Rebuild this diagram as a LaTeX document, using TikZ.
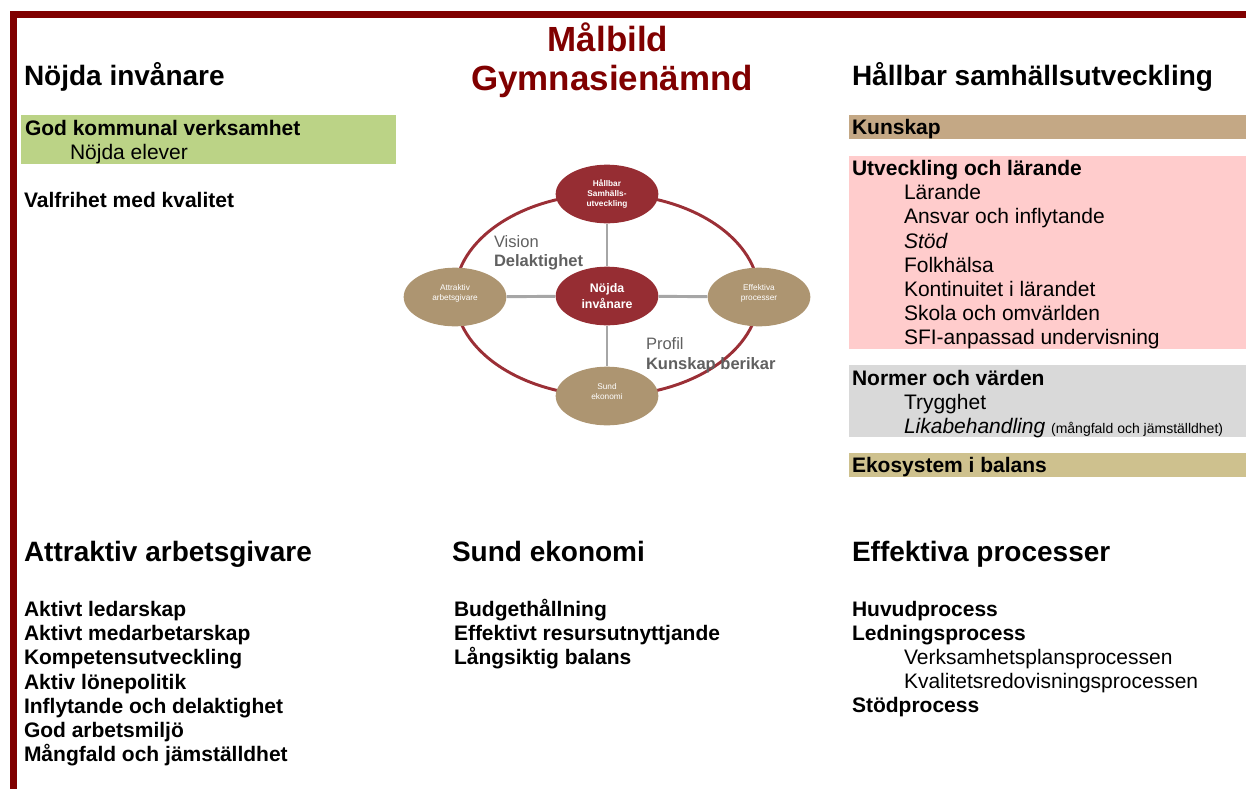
\documentclass[tikz,border=0pt]{standalone}
\usepackage{fontspec}
\setmainfont{Liberation Sans}
\usetikzlibrary{shapes.geometric}
\definecolor{borderred}{HTML}{800000}
\definecolor{nodered}{HTML}{962D33}
\definecolor{nodetan}{HTML}{AD9571}
\definecolor{ringred}{HTML}{9B2F36}
\definecolor{spokegray}{HTML}{A6A6A6}
\definecolor{txtgray}{HTML}{606060}
\definecolor{bandgreen}{HTML}{BBD386}
\definecolor{bandtan}{HTML}{C4A885}
\definecolor{bandpink}{HTML}{FFCCCC}
\definecolor{bandgray}{HTML}{D9D9D9}
\definecolor{bandeco}{HTML}{CEC18E}
\tikzset{
  txt/.style={anchor=base west, inner sep=0pt, outer sep=0pt},
  headtxt/.style={txt, font=\fontsize{21}{24}\selectfont\bfseries},
  boldtxt/.style={txt, font=\fontsize{15.75}{18}\selectfont\bfseries},
  plaintxt/.style={txt, font=\fontsize{15.75}{18}\selectfont},
  titletxt/.style={anchor=base, inner sep=0pt, text=borderred, font=\fontsize{26.2}{30}\selectfont\bfseries},
  oval/.style={ellipse, draw=none, inner sep=0pt, minimum width=77pt, minimum height=44pt, text=white, align=center},
  redoval/.style={oval, fill=nodered},
  tanoval/.style={oval, fill=nodetan, font=\fontsize{6.2}{7}\selectfont, text depth=7pt},
  spoke/.style={draw=spokegray, line width=2.2pt},
  ring/.style={draw=ringred, line width=2.2pt},
  graytxt/.style={txt, text=txtgray, font=\fontsize{12.4}{14}\selectfont},
}
\begin{document}
\begin{tikzpicture}[x=0.75pt, y=-0.75pt]
\useasboundingbox (0,0) rectangle (1246,789);
% border
\fill[borderred] (10,11) rectangle (1246,18);
\fill[borderred] (10,11) rectangle (17,789);
% bands
\fill[bandgreen] (21,115) rectangle (396,164);
\fill[bandtan] (849,115) rectangle (1246,139);
\fill[bandpink] (849,156) rectangle (1246,349);
\fill[bandgray] (849,365) rectangle (1246,437);
\fill[bandeco] (849,453) rectangle (1246,477);
% title
\node[titletxt] (t1) at (608,51.7) {Målbild};
\node[titletxt] (t2) at (612,90) {Gymnasienämnd};
% headings
\node[headtxt] (h1) at (24,85) {Nöjda invånare};
\node[headtxt] (h2) at (852,85) {Hållbar samhällsutveckling};
\node[headtxt] (h3) at (24,561.5) {Attraktiv arbetsgivare};
\node[headtxt] (h4) at (452,561.5) {Sund ekonomi};
\node[headtxt] (h5) at (852,561.5) {Effektiva processer};
% left top
\node[boldtxt] (l1) at (25,135) {God kommunal verksamhet};
\node[plaintxt] (l2) at (70,159) {Nöjda elever};
\node[boldtxt] (l3) at (24,207) {Valfrihet med kvalitet};
% right column
\node[boldtxt] (r1) at (852,134.5) {Kunskap};
\node[boldtxt] (r2) at (852,175.5) {Utveckling och lärande};
\node[plaintxt] (r3) at (904,199.5) {Lärande};
\node[plaintxt] (r4) at (904,223.7) {Ansvar och inflytande};
\node[plaintxt] (r5) at (904,248) {\itshape Stöd};
\node[plaintxt] (r6) at (904,272.2) {Folkhälsa};
\node[plaintxt] (r7) at (904,296.4) {Kontinuitet i lärandet};
\node[plaintxt] (r8) at (904,320.6) {Skola och omvärlden};
\node[plaintxt] (r9) at (904,344.8) {SFI-anpassad undervisning};
\node[boldtxt] (r10) at (852,385.8) {Normer och värden};
\node[plaintxt] (r11) at (904,409.8) {Trygghet};
\node[plaintxt] (r12) at (904,433.5) {\itshape Likabehandling\upshape{} {\fontsize{10.5}{12}\selectfont(mångfald och jämställdhet)}};
\node[boldtxt] (r13) at (852,472.5) {Ekosystem i balans};
% attraktiv arbetsgivare list
\node[boldtxt] (a1) at (24,616.5) {Aktivt ledarskap};
\node[boldtxt] (a2) at (24,640.7) {Aktivt medarbetarskap};
\node[boldtxt] (a3) at (24,664.9) {Kompetensutveckling};
\node[boldtxt] (a4) at (24,689.1) {Aktiv lönepolitik};
\node[boldtxt] (a5) at (24,713.3) {Inflytande och delaktighet};
\node[boldtxt] (a6) at (24,737.5) {God arbetsmiljö};
\node[boldtxt] (a7) at (24,761.7) {Mångfald och jämställdhet};
% sund ekonomi list
\node[boldtxt] (s1) at (454,616.5) {Budgethållning};
\node[boldtxt] (s2) at (454,640.7) {Effektivt resursutnyttjande};
\node[boldtxt] (s3) at (454,664.9) {Långsiktig balans};
% effektiva processer list
\node[boldtxt] (e1) at (852,616.3) {Huvudprocess};
\node[boldtxt] (e2) at (852,640.4) {Ledningsprocess};
\node[plaintxt] (e3) at (904,664.5) {Verksamhetsplansprocessen};
\node[plaintxt] (e4) at (904,688.6) {Kvalitetsredovisningsprocessen};
\node[boldtxt] (e5) at (852,712.7) {Stödprocess};
% central diagram
\draw[ring] (607,295) ellipse [x radius=152, y radius=101];
\node[redoval, font=\fontsize{6.2}{7.5}\selectfont\bfseries] (top) at (607,194) {Hållbar\\Samhälls-\\utveckling};
\node[redoval, font=\fontsize{9.3}{12}\selectfont\bfseries] (hub) at (607,296) {Nöjda\\invånare};
\node[tanoval] (left) at (455,297) {Attraktiv\\arbetsgivare};
\node[tanoval] (right) at (759,297) {Effektiva\\processer};
\node[tanoval] (bot) at (607,396) {Sund\\ekonomi};
\draw[spoke] (hub) -- (top);
\draw[spoke] (hub) -- (left);
\draw[spoke] (hub) -- (right);
\draw[spoke] (hub) -- (bot);
\node[graytxt] (v1) at (494,247) {Vision};
\node[graytxt, font=\fontsize{12.4}{14}\selectfont\bfseries] (v2) at (494,266.5) {Delaktighet};
\node[graytxt] (p1) at (646,349.5) {Profil};
\node[graytxt, font=\fontsize{12.4}{14}\selectfont\bfseries] (p2) at (646,369.5) {Kunskap berikar};
\end{tikzpicture}
\end{document}
